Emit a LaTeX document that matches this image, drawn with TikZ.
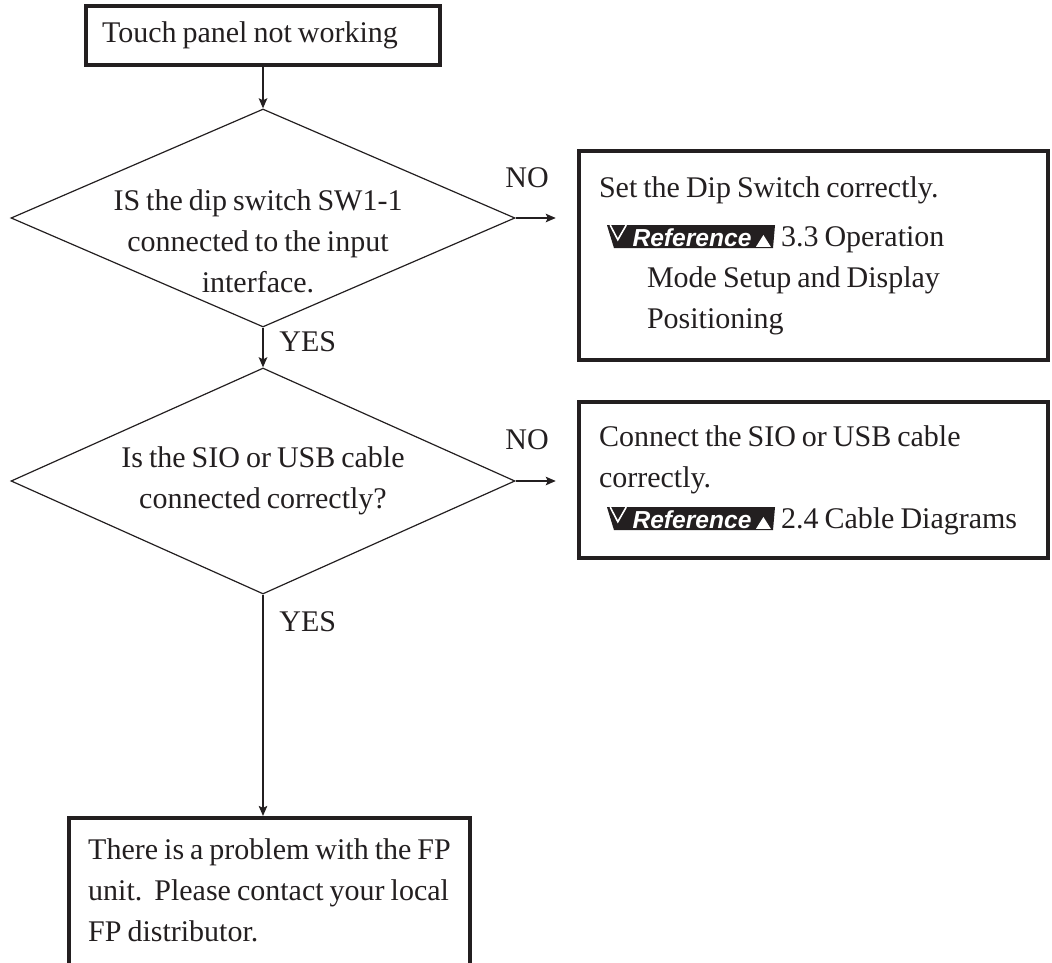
\documentclass[tikz,border=0pt]{standalone}
\usepackage{fontspec}
\setmainfont{Liberation Serif}[WordSpace=0.8]
\newfontfamily\badgefont{Liberation Sans}
\usetikzlibrary{arrows.meta,shapes.geometric}
\definecolor{ink}{RGB}{35,31,32}

% small black "Reference" banner used inside the answer boxes
\newcommand{\refbadge}{\tikz[x=1pt,y=1pt,baseline=1pt,line width=0.8pt]{%
\useasboundingbox (0,0) rectangle (84,11.5);
\fill[ink] (0,11.5) -- (84,11.5) -- (83,0) -- (3.5,0) -- cycle;
\draw[white] (1.6,11.5) -- (5.4,4.2) -- (9.6,11.5);
\fill[white] (74.5,0.7) -- (78.2,6.6) -- (81.9,0.7) -- cycle;}%
\hspace{-84pt}\makebox[84pt]{\hspace{1pt}\color{white}\badgefont\bfseries\itshape\fontsize{12.3pt}{12.3pt}\selectfont Reference}}

\begin{document}
\begin{tikzpicture}[x=0.5pt,y=-0.5pt,font=\fontsize{15pt}{20.5pt}\selectfont,
  box/.style={draw=ink,line width=2.2pt,rectangle,align=flush left,text=ink},
  decision/.style={draw=ink,line width=0.6pt,diamond,aspect=2.2,inner sep=0pt,align=center,text=ink},
  flow/.style={draw=ink,line width=1.1pt,-{Stealth[length=5pt,width=4.2pt,inset=1pt]}},
  lbl/.style={inner sep=0pt,text=ink}]
\useasboundingbox (0,0) rectangle (1052,962);
% left column
\node[box,minimum width=177pt,minimum height=29.5pt,text width=161pt,inner xsep=8pt] (start) at (263,35.5) {Touch panel not working};
\node[decision,minimum width=252pt,minimum height=109pt] (q1) at (263,218) {};
\node[lbl,align=center] (q1txt) at (258,241) {IS the dip switch SW1-1\\connected to the input\\interface.};
\node[decision,minimum width=252pt,minimum height=113pt] (q2) at (263,481) {Is the SIO or USB cable\\connected correctly?};
\node[box,anchor=north west,inner xsep=9.5pt,inner ysep=10pt] (fault) at (67,816) {There is a problem with the FP\\unit.\ \ Please contact your local\\FP distributor.\\[12pt]};
% right column
\node[box,minimum width=234.5pt,minimum height=104.5pt,text width=214.5pt,inner xsep=10pt] (fixA) at (813.5,255.5) {Set the Dip Switch correctly.\\[4pt]
\hspace*{4pt}\refbadge\hspace{3pt}3.3 Operation\\
\hspace*{24pt}Mode Setup and Display\\
\hspace*{24pt}Positioning};
\node[box,minimum width=234.5pt,minimum height=78pt,text width=214.5pt,inner xsep=10pt] (fixB) at (813.5,480) {Connect the SIO or USB cable\\correctly.\\
\hspace*{4pt}\refbadge\hspace{3pt}2.4 Cable Diagrams};
% branch labels
\node[lbl] (no1) at (527,178) {NO};
\node[lbl] (no2) at (527,440) {NO};
\node[lbl,anchor=west] (yes1) at (279,342) {YES};
\node[lbl,anchor=west] (yes2) at (279,622) {YES};
% connectors
\draw[flow] (start) -- (q1);
\draw[flow] (q1) -- (q2);
\draw[flow] (q2.south) -- (q2.south |- fault.north);
\draw[flow] (q1.east) -- ([xshift=-10.5pt]fixA.west |- q1.east);
\draw[flow] (q2.east) -- ([xshift=-10.5pt]fixB.west |- q2.east);
\end{tikzpicture}
\end{document}
